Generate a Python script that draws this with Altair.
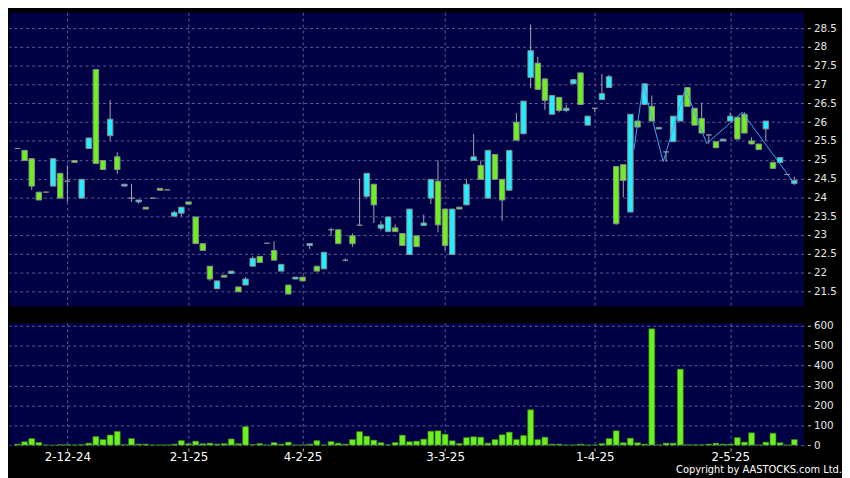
import altair as alt
import pandas as pd

# ---- data ----
opens = [25.30, 25.25, 25.03, 24.14, 24.14, 24.30, 24.64, 24.43, 24.98, 23.98,
         25.30, 27.40, 24.98, 25.64, 25.08, 24.30, 23.98, 23.88, 23.74, 23.98,
         24.24, 24.20, 23.50, 23.58, 23.88, 23.48, 22.77, 22.17, 21.57, 21.93,
         21.98, 21.62, 21.67, 22.17, 22.43, 22.78, 22.59, 22.04, 21.67, 21.83,
         21.88, 22.72, 22.17, 22.10, 23.14, 23.14, 22.33, 22.98, 23.26, 24.03,
         24.35, 23.18, 23.09, 23.19, 23.04, 22.48, 22.98, 23.25, 23.98, 24.43,
         23.69, 22.48, 23.74, 23.80, 24.98, 24.85, 23.98, 25.14, 24.48, 24.19,
         26.00, 25.69, 27.19, 27.57, 27.15, 26.21, 26.66, 26.31, 27.02, 27.31,
         25.92, 26.37, 26.60, 26.92, 24.82, 24.87, 23.61, 26.03, 26.47, 26.42,
         25.82, 25.21, 25.48, 26.03, 26.92, 26.37, 26.10, 25.66, 25.48, 25.50,
         26.03, 26.13, 26.21, 25.50, 25.42, 25.82, 24.93, 24.93, 24.61, 24.37]
highs = [25.30, 25.25, 25.03, 24.14, 24.14, 25.03, 24.64, 24.85, 24.98, 24.48,
         25.58, 27.40, 24.98, 26.59, 25.20, 24.35, 24.36, 23.93, 23.74, 23.98,
         24.24, 24.20, 23.65, 23.74, 23.88, 23.48, 22.77, 22.17, 21.78, 21.93,
         22.04, 21.62, 21.88, 22.43, 22.43, 22.78, 22.83, 22.22, 21.67, 21.88,
         21.88, 22.77, 22.17, 22.54, 23.19, 23.14, 22.38, 23.04, 24.50, 24.64,
         24.35, 23.37, 23.48, 23.28, 23.04, 23.69, 22.98, 23.54, 24.48, 24.99,
         23.69, 23.69, 23.74, 24.48, 25.69, 24.98, 25.25, 25.14, 24.48, 25.25,
         26.24, 26.56, 28.60, 27.74, 27.15, 26.71, 26.66, 26.47, 27.13, 27.31,
         26.16, 26.37, 27.28, 27.26, 24.82, 24.87, 26.21, 26.03, 27.02, 26.71,
         25.86, 25.21, 26.16, 26.71, 26.92, 26.37, 26.52, 25.66, 25.48, 25.55,
         26.26, 26.13, 26.26, 25.60, 25.42, 26.03, 24.93, 25.06, 24.61, 24.55]
lows = [25.30, 24.98, 24.20, 23.93, 24.14, 24.30, 23.98, 23.88, 24.93, 23.98,
        25.30, 24.90, 24.74, 25.52, 24.63, 24.30, 23.88, 23.83, 23.69, 23.98,
        24.19, 24.20, 23.50, 23.50, 23.82, 22.77, 22.59, 21.78, 21.57, 21.88,
        21.98, 21.49, 21.67, 22.17, 22.27, 22.78, 22.33, 22.04, 21.43, 21.83,
        21.78, 22.63, 22.04, 22.10, 22.98, 22.77, 22.30, 22.69, 23.26, 23.98,
        23.32, 23.12, 23.09, 23.09, 22.72, 22.48, 22.69, 23.25, 23.82, 23.07,
        22.59, 22.48, 23.69, 23.80, 24.98, 24.48, 23.98, 24.48, 23.38, 24.19,
        25.52, 25.69, 26.90, 26.87, 26.33, 26.21, 26.26, 26.26, 27.02, 26.47,
        25.92, 26.26, 26.60, 26.92, 23.27, 24.00, 23.61, 25.87, 26.47, 26.03,
        25.82, 24.95, 25.48, 26.03, 26.42, 25.92, 25.71, 25.43, 25.32, 25.50,
        26.03, 25.55, 25.71, 25.42, 25.27, 25.50, 24.77, 24.93, 24.61, 24.33]
closes = [25.30, 24.98, 24.30, 23.93, 24.14, 25.03, 23.98, 24.43, 24.93, 24.48,
          25.58, 24.90, 24.74, 26.08, 24.74, 24.35, 23.98, 23.93, 23.69, 23.98,
          24.19, 24.20, 23.60, 23.74, 23.82, 22.77, 22.59, 21.83, 21.78, 21.88,
          22.04, 21.49, 21.83, 22.38, 22.27, 22.78, 22.33, 22.22, 21.43, 21.88,
          21.78, 22.77, 22.04, 22.54, 23.14, 22.77, 22.33, 22.77, 23.26, 24.64,
          23.80, 23.27, 23.48, 23.09, 22.72, 23.69, 22.69, 23.32, 24.48, 23.27,
          22.72, 23.69, 23.69, 24.35, 25.08, 24.48, 25.25, 24.48, 23.93, 25.25,
          25.52, 26.56, 27.90, 26.87, 26.58, 26.71, 26.31, 26.37, 27.13, 26.47,
          26.16, 26.37, 26.76, 27.21, 23.30, 24.45, 26.21, 25.87, 27.02, 26.03,
          25.86, 25.21, 26.16, 26.71, 26.42, 25.92, 25.71, 25.66, 25.32, 25.55,
          26.16, 25.55, 25.71, 25.42, 25.27, 26.03, 24.77, 25.06, 24.61, 24.45]
volumes = [5, 17, 33, 13, 1, 0, 3, 3, 1, 3,
           10, 43, 28, 51, 69, 3, 33, 5, 5, 1,
           1, 1, 5, 23, 7, 20, 7, 10, 5, 8,
           31, 7, 93, 3, 8, 1, 13, 5, 15, 1,
           1, 5, 23, 1, 18, 10, 5, 28, 68, 45,
           25, 12, 2, 13, 50, 17, 20, 30, 70, 72,
           55, 22, 8, 38, 42, 40, 10, 28, 52, 65,
           28, 48, 178, 28, 40, 5, 5, 1, 1, 5,
           1, 1, 8, 33, 72, 12, 35, 12, 5, 585,
           1, 10, 10, 382, 2, 2, 2, 5, 10, 5,
           5, 38, 15, 62, 1, 15, 60, 12, 1, 28]

# zig-zag overlay line (position in trading-day index, price)
zig_x = [86.5, 87.8, 90.6, 93.7, 96.7, 101.7, 108.8]
zig_y = [25.28, 27.02, 24.95, 26.90, 25.43, 26.26, 24.42]

# axis ticks
date_idx = [7, 24, 40, 60, 81, 100]
date_labels = ["2-12-24", "2-1-25", "4-2-25", "3-3-25", "1-4-25", "2-5-25"]
price_ticks = [21.5, 22, 22.5, 23, 23.5, 24, 24.5, 25, 25.5, 26, 26.5, 27, 27.5, 28, 28.5]
vol_ticks = [0, 100, 200, 300, 400, 500, 600]

# ---- styles ----
NAVY = "#000044"
GREEN = "#6cf01e"
CYAN = "#22eeff"
GRID = "#5c5c98"
FONT = "DejaVu Sans"

n = len(opens)
df = pd.DataFrame({
    "i": list(range(n)),
    "open": opens, "high": highs, "low": lows, "close": closes,
    "vol": volumes,
})
df["top"] = df[["open", "close"]].max(axis=1)
df["bot"] = df[["open", "close"]].min(axis=1)
df["dir"] = ["up" if c > o else ("down" if c < o else "flat") for o, c in zip(opens, closes)]

zig = pd.DataFrame({"i": zig_x, "p": zig_y})

label_expr = " : ".join(
    f"datum.value == {v} ? '{t}'" for v, t in zip(date_idx, date_labels)
) + " : ''"

xscale = alt.Scale(domain=[-0.5, 109.6], nice=False, zero=False)
pscale = alt.Scale(domain=[21.11, 28.92], nice=False, zero=False)
vscale = alt.Scale(domain=[0, 615], nice=False, zero=False)

grid_axis = dict(grid=True, gridColor=GRID, gridDash=[3, 3], gridWidth=1, domain=False)

x_top = alt.X("i:Q", scale=xscale, title=None,
              axis=alt.Axis(values=date_idx, tickCount=30, labels=False, ticks=False, **grid_axis))
y_price = alt.Axis(orient="right", values=price_ticks, tickCount=30, format=".1~f", title=None,
                   offset=4, tickSize=3, labelPadding=3, labelFontSize=10.5,
                   labelOverlap=False, labelColor="#e8e8e8", tickColor="#c0c0c0", **grid_axis)

base = alt.Chart(df)
wicks = base.mark_rule(color="#a8a8a8", strokeWidth=1).encode(
    x=x_top,
    y=alt.Y("low:Q", scale=pscale, axis=y_price),
    y2="high:Q",
)
bodies = base.mark_bar(size=5.5, stroke="#8c8c8c", strokeWidth=1).encode(
    x=x_top,
    y=alt.Y("bot:Q", scale=pscale, axis=y_price),
    y2="top:Q",
    color=alt.Color("dir:N", legend=None,
                    scale=alt.Scale(domain=["up", "down", "flat"], range=[CYAN, GREEN, "#9a9a9a"])),
)
zigline = alt.Chart(zig).mark_line(color="#44a4f0", strokeWidth=1).encode(
    x=x_top,
    y=alt.Y("p:Q", scale=pscale, axis=y_price),
)
price_panel = alt.layer(wicks, bodies, zigline).properties(width=806, height=298)

x_bot = alt.X("i:Q", scale=xscale, title=None,
              axis=alt.Axis(values=date_idx, tickCount=30, labelExpr=label_expr, ticks=True,
                            tickSize=3, offset=3, tickColor="#c0c0c0", labelPadding=1,
                            labelFontSize=12, labelColor="white", labelFlush=False,
                            labelOverlap=False, **grid_axis))
y_vol = alt.Axis(orient="right", values=vol_ticks, tickCount=30, title=None, offset=4, tickSize=3,
                 labelPadding=3, labelFontSize=10.5, labelColor="#e8e8e8",
                 labelOverlap=False, tickColor="#c0c0c0", **grid_axis)
vol_panel = alt.Chart(df).mark_bar(size=6, color=GREEN, stroke="#3a8010", strokeWidth=0.6).encode(
    x=x_bot,
    y=alt.Y("vol:Q", scale=vscale, axis=y_vol),
).properties(width=806, height=124)

chart = alt.vconcat(price_panel, vol_panel, spacing=13).properties(
    padding=0,
    background="black",
    title=alt.TitleParams("Copyright by AASTOCKS.com Ltd.", orient="bottom", anchor="end",
                          color="white", fontSize=10, fontWeight="normal", font=FONT,
                          offset=2, dx=5),
).configure_view(fill=NAVY, stroke="transparent").configure_axis(
    labelFont=FONT
)

chart.save("out.html", embed_options={"renderer": "svg", "actions": False})
